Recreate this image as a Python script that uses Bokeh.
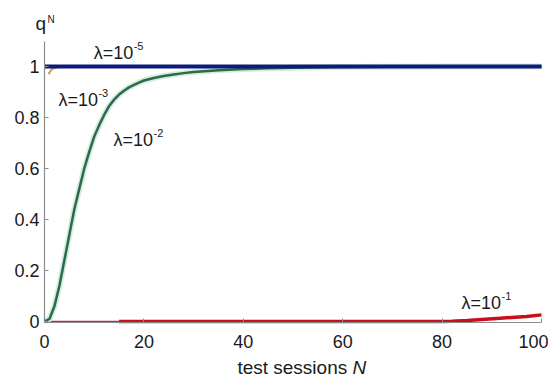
from bokeh.plotting import figure
from bokeh.models import Label, Range1d, FixedTicker
from bokeh.embed import file_html
from bokeh.resources import INLINE

# ---- data ----
n_green = [0, 1, 2, 3, 4, 5, 6, 7, 8, 9, 10, 11, 12, 13, 14, 15, 16, 17, 18, 19, 20,
           22, 24, 26, 28, 30, 35, 40, 45, 50, 55, 60, 70, 80, 90, 100]
q_green = [0.0, 0.01, 0.06, 0.14, 0.24, 0.34, 0.44, 0.52, 0.60, 0.665, 0.725, 0.77, 0.81,
           0.845, 0.87, 0.89, 0.905, 0.918, 0.928, 0.937, 0.945,
           0.955, 0.963, 0.969, 0.974, 0.978, 0.985, 0.99, 0.993, 0.995, 0.997, 0.998,
           0.999, 1.0, 1.0, 1.0]

n_red = [0, 15, 80, 82, 85, 88, 91, 94, 97, 100]
q_red = [0.0, 0.0, 0.0, 0.001, 0.004, 0.008, 0.012, 0.016, 0.02, 0.026]

n_yellow = [0.8, 1.5, 3, 100]
q_yellow = [0.97, 0.99, 1.0, 1.0]

n_blue = [0, 100]
q_blue = [1.0, 1.0]

x_ticks = [0, 20, 40, 60, 80, 100]
y_ticks = [0, 0.2, 0.4, 0.6, 0.8, 1]
y_tick_labels = ["0", "0.2", "0.4", "0.6", "0.8", "1"]

labels = [
    # text, exponent, x, y
    ("λ=10", "-5", 9.9, 1.051),
    ("λ=10", "-3", 2.8, 0.867),
    ("λ=10", "-2", 13.9, 0.710),
    ("λ=10", "-1", 83.9, 0.071),
]

FONT = "Liberation Sans"
TXT = "#1a1a1a"

W, H = 548, 380
X0, PXX = 44.0, 4.97      # pixel of x=0, pixels per x unit
Y0, PXY = 321.0, 255.0    # pixel of y=0, pixels per y unit

p = figure(width=W, height=H, output_backend="svg", toolbar_location=None, title=None,
           x_range=Range1d(-X0 / PXX, (W - X0) / PXX),
           y_range=Range1d(-(H - Y0) / PXY, Y0 / PXY),
           min_border_left=0, min_border_right=0, min_border_top=0, min_border_bottom=0)
p.outline_line_color = None
p.xgrid.visible = False
p.ygrid.visible = False
p.background_fill_color = "white"
p.border_fill_color = "white"

for ax in (p.xaxis[0], p.yaxis[0]):
    ax.axis_line_color = "#8c8c8c"
    ax.axis_line_width = 1.2
    ax.major_tick_line_color = "#8c8c8c"
    ax.major_tick_in = 4
    ax.major_tick_out = 0
    ax.minor_tick_line_color = None
    ax.major_label_text_font = FONT
    ax.major_label_text_font_size = "18px"
    ax.major_label_text_color = TXT

p.xaxis[0].ticker = FixedTicker(ticks=x_ticks)
p.xaxis[0].fixed_location = -0.004
p.xaxis[0].bounds = (0, 100)
p.xaxis[0].major_label_standoff = 12
p.yaxis[0].ticker = FixedTicker(ticks=y_ticks)
p.yaxis[0].fixed_location = 0
p.yaxis[0].bounds = (-0.004, 1.098)
p.yaxis[0].major_label_overrides = {t: l for t, l in zip(y_ticks, y_tick_labels)}
p.yaxis[0].major_label_standoff = 5

# curves
p.line(n_red[:2], q_red[:2], line_color="#c0303a", line_width=1.5)
p.line(n_red[1:], q_red[1:], line_color="#c8101c", line_width=3.5)
p.line(n_yellow, q_yellow, line_color="#c9a24a", line_width=2)
p.line(n_green, q_green, line_color="#d6ece1", line_width=6)
p.line(n_green, q_green, line_color="#2c6a49", line_width=2.5)
p.line(n_blue, q_blue, line_color="#0d1c7a", line_width=4)

# curve labels
for base, exp, x, y in labels:
    p.add_layout(Label(x=x, y=y, text=base, text_font=FONT, text_font_size="18px",
                       text_color=TXT, text_baseline="alphabetic", text_align="left"))
    p.add_layout(Label(x=x, y=y, x_offset=40, y_offset=7, text=exp, text_font=FONT,
                       text_font_size="11px", text_color=TXT,
                       text_baseline="alphabetic", text_align="left"))

# axis titles (screen units, measured from the bottom-left corner)
p.add_layout(Label(x=35, y=H - 23, x_units="screen", y_units="screen", text="q",
                   text_font=FONT, text_font_size="19px", text_color=TXT,
                   text_baseline="alphabetic"))
p.add_layout(Label(x=47, y=H - 18.5, x_units="screen", y_units="screen", text="N",
                   text_font=FONT, text_font_size="10px", text_color=TXT,
                   text_baseline="alphabetic"))
p.add_layout(Label(x=352, y=H - 367, x_units="screen", y_units="screen", text="test sessions ",
                   text_font=FONT, text_font_size="19px", text_color=TXT,
                   text_baseline="alphabetic", text_align="right"))
p.add_layout(Label(x=352, y=H - 367, x_units="screen", y_units="screen", text="N",
                   text_font=FONT, text_font_size="19px", text_font_style="italic",
                   text_color=TXT, text_baseline="alphabetic", text_align="left"))

open("out.html", "w").write(file_html(p, INLINE))
